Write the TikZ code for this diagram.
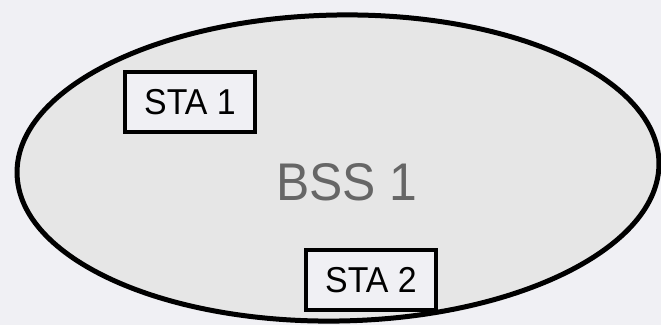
\documentclass[tikz,border=0pt]{standalone}
\usepackage{fontspec}
\setmainfont{Liberation Sans}
\newfontfamily\narrowsans[FakeStretch=0.94]{Liberation Sans}
\definecolor{bgcol}{HTML}{F0F0F4}
\definecolor{ellfill}{HTML}{E6E6E6}
\definecolor{bsstext}{HTML}{666666}
\begin{document}
\begin{tikzpicture}[x=1pt,y=1pt,
  stabox/.style={draw=black, line width=4.5pt, fill=bgcol, minimum width=130pt, minimum height=60pt, inner sep=0pt, font=\narrowsans\fontsize{36}{42}\selectfont},
  bssell/.style={draw=black, line width=5pt, fill=ellfill}]
\useasboundingbox (0,0) rectangle (661,325);
\fill[bgcol] (0,0) rectangle (661,325);
\draw[bssell, rotate around={1:(338,157)}] (338,157) ellipse [x radius=321, y radius=153];
\node[text=bsstext, font=\narrowsans\fontsize{53}{60}\selectfont] (bss) at (347,143) {BSS 1};
\node[stabox] (sta1) at (190,223) {STA 1};
\node[stabox] (sta2) at (371,45) {STA 2};
\end{tikzpicture}
\end{document}
